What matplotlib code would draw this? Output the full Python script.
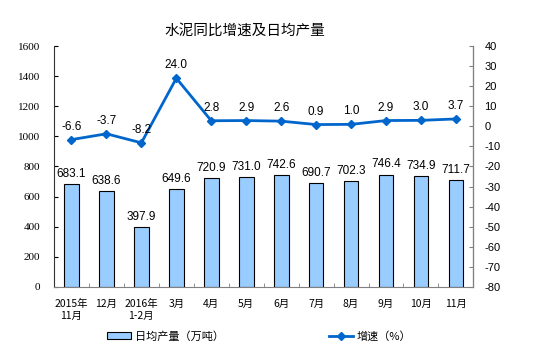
import numpy as np
import matplotlib.pyplot as plt
from matplotlib.patches import Patch
from matplotlib.lines import Line2D

plt.rcParams['font.family'] = ['Noto Sans CJK SC', 'DejaVu Sans']
plt.rcParams['axes.unicode_minus'] = False

months = ['2015年\n11月', '12月', '2016年\n1-2月', '3月', '4月', '5月',
          '6月', '7月', '8月', '9月', '10月', '11月']
output = [683.1, 638.6, 397.9, 649.6, 720.9, 731.0, 742.6, 690.7, 702.3, 746.4, 734.9, 711.7]
growth = [-6.6, -3.7, -8.2, 24.0, 2.8, 2.9, 2.6, 0.9, 1.0, 2.9, 3.0, 3.7]

bar_color = '#99CCFF'
line_color = '#0066CC'

fig = plt.figure(figsize=(5.54, 3.52), dpi=100)
ax = fig.add_axes([0.0975, 0.185, 0.757, 0.684])
ax2 = ax.twinx()

x = np.arange(len(months))
ax.bar(x, output, width=0.42, color=bar_color, edgecolor='black', linewidth=0.8, zorder=2)
for xi, v in zip(x, output):
    ax.annotate(f'{v:.1f}', (xi, v), xytext=(0, 3), textcoords='offset points',
                ha='center', va='bottom', fontsize=8.5, family='Liberation Sans')

ax2.plot(x, growth, color=line_color, lw=2, marker='D', ms=4, zorder=3)
for xi, v in zip(x, growth):
    ax2.annotate(f'{v:.1f}', (xi, v), xytext=(0, 5), textcoords='offset points',
                 ha='center', va='bottom', fontsize=8.5, family='Liberation Sans')

ax.set_xlim(-0.5, len(months) - 0.5)
ax.set_ylim(0, 1600)
ax.set_yticks(np.arange(0, 1601, 200))
ax2.set_ylim(-80, 40)
ax2.set_yticks(np.arange(-80, 41, 10))

ax.set_xticks(x)
ax.set_xticklabels(months, fontsize=7.5)
ax.tick_params(axis='x', length=0, pad=9)
ax.set_xticks(np.arange(-0.5, len(months)), minor=True)
ax.tick_params(axis='x', which='minor', direction='in', length=3, color='#808080')

for lab in ax.get_yticklabels():
    lab.set_family('Liberation Serif')
    lab.set_fontsize(8)
for lab in ax2.get_yticklabels():
    lab.set_family('Liberation Sans')
    lab.set_fontsize(8)
ax.tick_params(axis='y', direction='in', length=3, pad=10)
ax2.tick_params(axis='y', direction='in', length=3, color='#808080', pad=8)

for a in (ax, ax2):
    a.spines['top'].set_visible(False)
ax.spines['left'].set_color('#333333')
ax.spines['bottom'].set_color('#808080')
ax2.spines['right'].set_color('#808080')
ax2.spines['left'].set_visible(False)
ax2.spines['bottom'].set_visible(False)

fig.text(0.442, 0.912, '水泥同比增速及日均产量', ha='center', va='center', fontsize=10.5)

h1 = Patch(facecolor=bar_color, edgecolor='black', linewidth=0.8)
h2 = Line2D([], [], color=line_color, lw=2, marker='D', ms=4)
fig.legend([h1], ['日均产量（万吨）'], loc='center left', bbox_to_anchor=(0.175, 0.045),
           frameon=False, fontsize=8, handlelength=2.2, handletextpad=0.3)
fig.legend([h2], ['增速（%）'], loc='center left', bbox_to_anchor=(0.575, 0.045),
           frameon=False, fontsize=8, handlelength=2.2, handletextpad=0.3)

fig.savefig('out.png', dpi=100)
